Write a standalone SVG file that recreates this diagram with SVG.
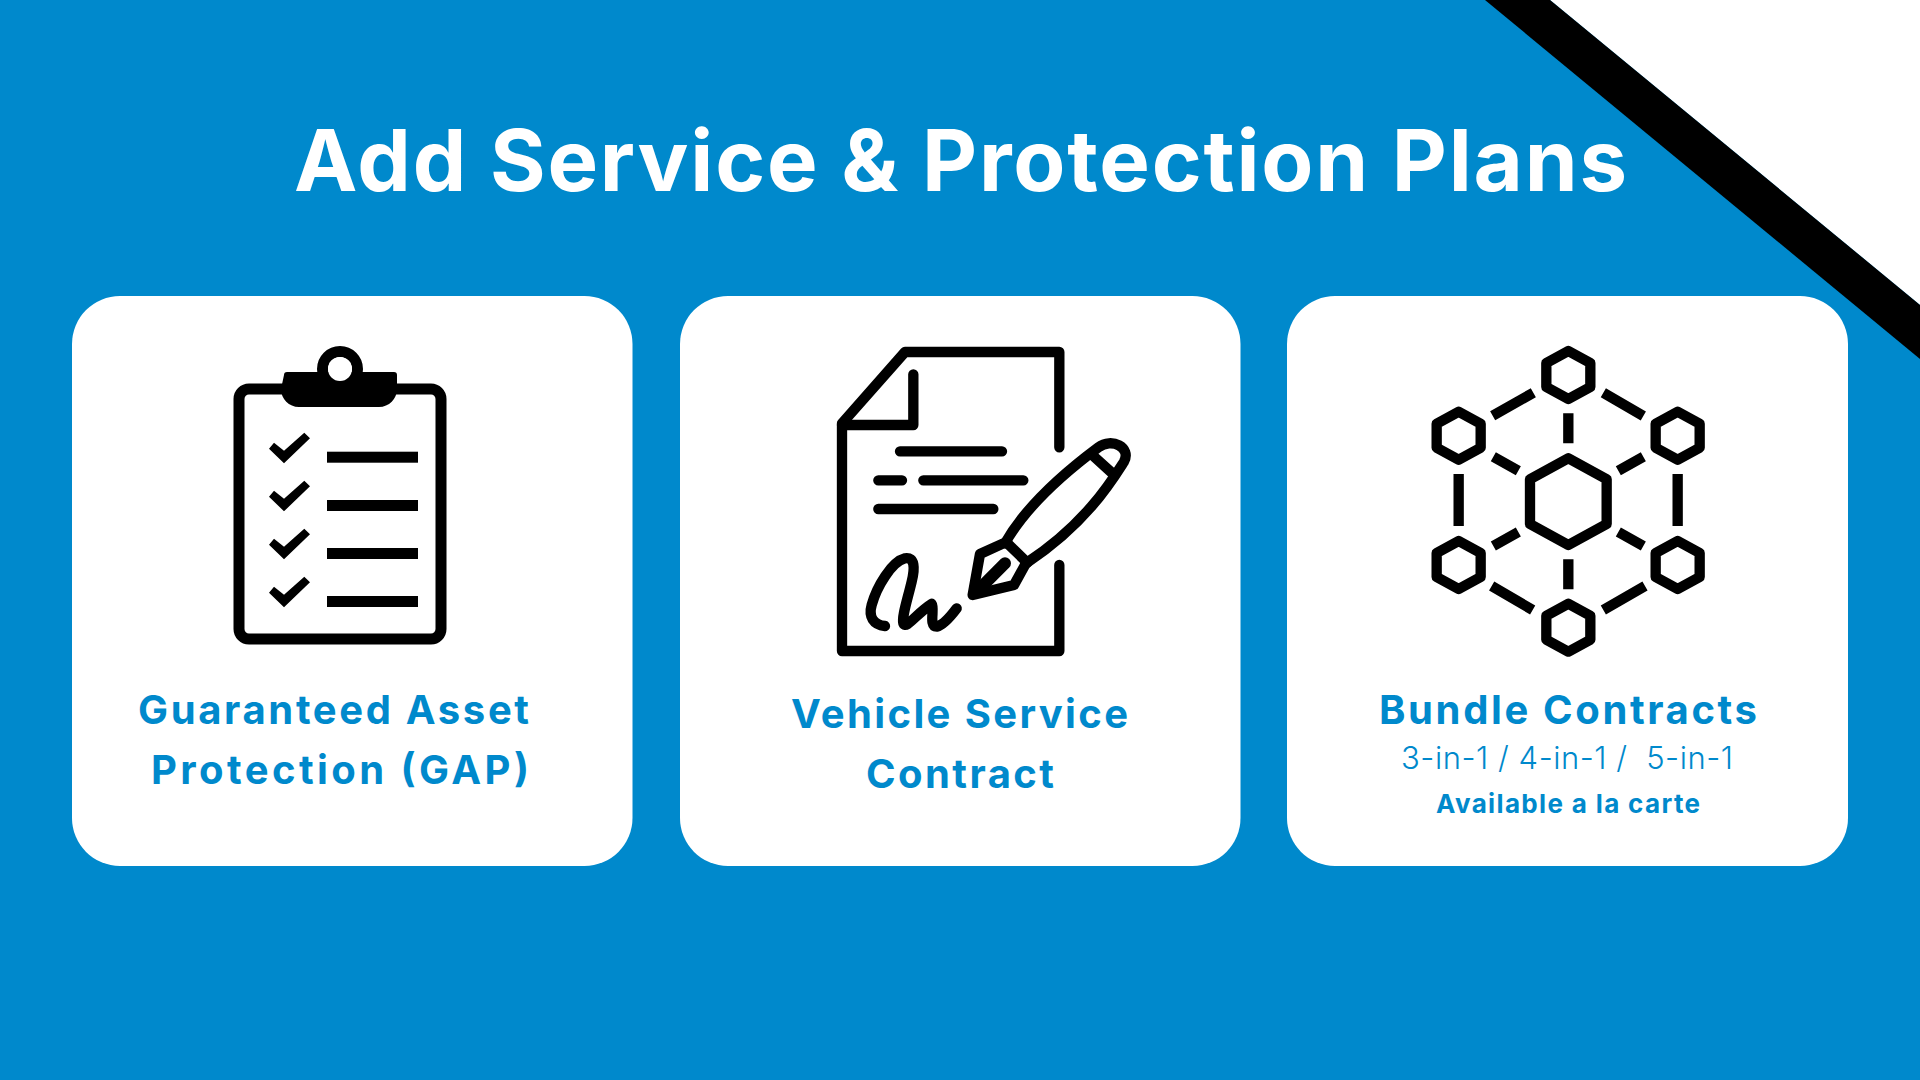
<svg xmlns="http://www.w3.org/2000/svg" width="1920" height="1080" viewBox="0 0 1920 1080">
<style>
text{font-family:"Inter","Noto Sans","Liberation Sans",sans-serif;white-space:pre}
.t{fill:#fff;font-size:85px;font-weight:700}
.h{fill:#0089cc;font-size:40px;font-weight:700}
.s{fill:#0089cc;font-size:31px;font-weight:300}
.a{fill:#0089cc;font-size:26px;font-weight:700}
.card{fill:#fff}
.i{fill:none;stroke:#000;stroke-linecap:round;stroke-linejoin:round;stroke-width:31}
.b{stroke-linecap:butt;stroke-linejoin:round}
</style>
<defs>
<polygon id="chk" points="269,448.7 274,442.7 284,450.7 304.3,432.7 310,438.3 284,463.3" fill="#000"/>
<path id="hx" d="M0-72 66-36V36L0 72-66 36V-36Z" class="i"/>
</defs>
<rect width="1920" height="1080" fill="#0089cc"/>
<polygon points="1550,0 1920,0 1920,305" fill="#fff"/>
<polygon points="1485,0 1550,0 1920,305 1920,359" fill="#000"/>
<text id="title" class="t" x="294" y="191" textLength="1333" lengthAdjust="spacing">Add Service &amp; Protection Plans</text>

<g id="card-gap">
<rect class="card" x="72" y="296" width="560.500" height="570" rx="48"/>
<rect x="239" y="389" width="202" height="250" rx="10" fill="none" stroke="#000" stroke-width="11"/>
<circle cx="340" cy="369" r="17.5" fill="#fff" stroke="#000" stroke-width="11"/>
<path d="M284 375a3 3 0 0 1 3-3h107a3 3 0 0 1 3 3v14c0 10-8 18-18 18h-80c-10 0-18-8-18-18Z" fill="#000"/>
<circle cx="340" cy="369" r="12" fill="#fff"/>
<use href="#chk"/><use href="#chk" y="48"/><use href="#chk" y="96"/><use href="#chk" y="144"/>
<g fill="#000"><rect x="327" y="451.700" width="91" height="11"/><rect x="327" y="500" width="91" height="11"/><rect x="327" y="548" width="91" height="11"/><rect x="327" y="596" width="91" height="11"/></g>
<text class="h" x="138" y="724" textLength="391" lengthAdjust="spacing">Guaranteed Asset</text>
<text class="h" x="151" y="784" textLength="378" lengthAdjust="spacing">Protection (GAP)</text>
</g>

<g id="card-vsc">
<rect class="card" x="680" y="296" width="560.500" height="570" rx="48"/>
<g transform="translate(820 330) scale(.33333)" class="i">
<path d="M718 352V66H255L66 280V963H718V705"/>
<path d="M280 133V285H66"/>
<path d="M240 364H546M175 451H246M310 451H610M175 537H520"/>
<path d="M195 888C160 885 145 860 155 825C170 770 215 695 255 685C285 680 285 715 275 755C262 810 245 860 250 880C258 900 290 850 335 822C345 835 325 890 350 890C370 885 395 855 410 835"/>
<path d="M555 640C600 560 690 460 835 352C875 322 935 352 912 395C880 445 800 580 622 697"/>
<path d="M820 378 875 428M562 640 622 698"/>
<path d="M550 640 480 672 458 795 582 765 615 705"/>
<path d="M490 765 555 700" stroke-width="36"/>
</g>
<text class="h" x="791" y="728" textLength="337" lengthAdjust="spacing">Vehicle Service</text>
<text class="h" x="866" y="788" textLength="188" lengthAdjust="spacing">Contract</text>
</g>

<g id="card-bundle">
<rect class="card" x="1287" y="296" width="561" height="570" rx="48"/>
<g transform="translate(1410 330) scale(.33333)" class="i">
<path d="M475 385 590 448V582L475 645 360 582V448Z"/>
<use href="#hx" x="475" y="135"/><use href="#hx" x="146" y="317"/><use href="#hx" x="803" y="317"/><use href="#hx" x="146" y="705"/><use href="#hx" x="803" y="705"/><use href="#hx" x="475" y="893"/>
<path class="b" d="M475 250V340M475 688V778M146 432V588M803 432V588M248 257 370 188M580 188 700 258M250 380 325 422M700 380 625 422M250 648 325 606M700 648 625 606M245 768 368 840M705 768 580 840"/>
</g>
<text class="h" x="1379" y="724" textLength="378" lengthAdjust="spacing">Bundle Contracts</text>
<text class="s" x="1401" y="769" textLength="332" lengthAdjust="spacing">3-in-1 / 4-in-1 /  5-in-1</text>
<text class="a" x="1436" y="813" textLength="264" lengthAdjust="spacing">Available a la carte</text>
</g>
</svg>
